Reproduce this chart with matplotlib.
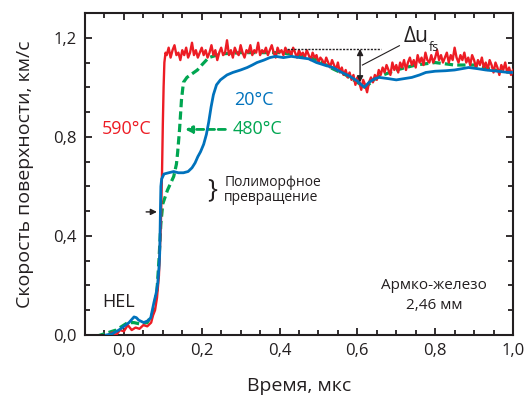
import matplotlib
matplotlib.use("Agg")
import matplotlib.pyplot as plt
import numpy as np
from matplotlib.ticker import MultipleLocator, FuncFormatter

plt.rcParams["font.family"] = ["Open Sans", "DejaVu Sans"]

RED = "#ed1c24"
BLUE = "#0072bc"
GREEN = "#00a651"

# 590 C: foot and shock front
red_front_t = [-0.05, -0.04, -0.03, -0.02, -0.01, 0.0, 0.01, 0.02, 0.03, 0.04,
               0.05, 0.06, 0.07, 0.075, 0.08, 0.085, 0.09, 0.095, 0.098, 0.10,
               0.102, 0.104, 0.107]
red_front_v = [-0.01, 0.0, 0.01, 0.0, 0.02, 0.015, 0.04, 0.02, 0.03, 0.025,
               0.04, 0.035, 0.05, 0.08, 0.10, 0.15, 0.24, 0.45, 0.66, 0.85,
               1.00, 1.10, 1.14]
# 590 C: noisy plateau, sampled every 5 ns from 0.110 us
red_step = 0.005
red_plateau_v = [
    1.13, 1.16, 1.12, 1.15, 1.17, 1.13, 1.14, 1.11, 1.15, 1.13,
    1.16, 1.12, 1.14, 1.18, 1.13, 1.15, 1.12, 1.14, 1.16, 1.13,
    1.15, 1.12, 1.14, 1.17, 1.13, 1.15, 1.11, 1.14, 1.16, 1.13,
    1.14, 1.19, 1.13, 1.15, 1.12, 1.16, 1.14, 1.13, 1.17, 1.14,
    1.12, 1.15, 1.14, 1.17, 1.13, 1.15, 1.14, 1.18, 1.13, 1.15,
    1.14, 1.16, 1.13, 1.15, 1.17, 1.14, 1.12, 1.16, 1.14, 1.15,
    1.13, 1.16, 1.14, 1.15, 1.13, 1.16, 1.14, 1.12, 1.15, 1.13,
    1.14, 1.12, 1.15, 1.13, 1.11, 1.14, 1.12, 1.13, 1.10, 1.12,
    1.11, 1.09, 1.12, 1.10, 1.08, 1.11, 1.09, 1.07, 1.10, 1.06,
    1.08, 1.05, 1.07, 1.04, 1.06, 1.03, 1.05, 1.01, 1.04, 1.02,
    0.99, 1.03, 1.01, 0.98, 1.02, 1.04, 1.02, 1.05, 1.03, 1.07,
    1.05, 1.08, 1.06, 1.09, 1.07, 1.05, 1.10, 1.07, 1.09, 1.06,
    1.10, 1.08, 1.11, 1.07, 1.10, 1.12, 1.09, 1.11, 1.08, 1.13,
    1.10, 1.12, 1.09, 1.14, 1.11, 1.10, 1.13, 1.10, 1.12, 1.15,
    1.11, 1.13, 1.10, 1.12, 1.14, 1.10, 1.13, 1.11, 1.16, 1.12,
    1.10, 1.13, 1.11, 1.14, 1.10, 1.12, 1.09, 1.13, 1.11, 1.08,
    1.11, 1.09, 1.12, 1.08, 1.10, 1.07, 1.11, 1.09, 1.06, 1.10,
    1.08, 1.05, 1.09, 1.07, 1.10, 1.06, 1.08, 1.05, 1.07,
]

# 20 C
blue_t = [-0.045, -0.03, -0.013, 0.0, 0.013, 0.026, 0.032, 0.038, 0.051, 0.062,
          0.069, 0.077, 0.083, 0.087, 0.090, 0.092, 0.093, 0.094, 0.095, 0.097,
          0.103, 0.115, 0.128, 0.140, 0.153, 0.165, 0.175, 0.183, 0.190, 0.197,
          0.205, 0.212, 0.218, 0.224, 0.230, 0.238, 0.248, 0.265, 0.280, 0.300,
          0.317, 0.330, 0.342, 0.360, 0.375, 0.390, 0.410, 0.430, 0.452, 0.475,
          0.495, 0.515, 0.537, 0.560, 0.580, 0.600, 0.618, 0.630, 0.645, 0.656,
          0.680, 0.700, 0.720, 0.740, 0.760, 0.776, 0.800, 0.827, 0.850, 0.886,
          0.910, 0.930, 0.960, 0.988, 1.000]
blue_v = [0.0, 0.005, 0.02, 0.035, 0.05, 0.073, 0.07, 0.06, 0.05, 0.058,
          0.07, 0.13, 0.17, 0.21, 0.27, 0.33, 0.42, 0.52, 0.60, 0.63,
          0.65, 0.655, 0.66, 0.655, 0.655, 0.66, 0.675, 0.695, 0.72, 0.74,
          0.77, 0.81, 0.86, 0.92, 0.97, 1.01, 1.03, 1.05, 1.06, 1.07,
          1.08, 1.09, 1.10, 1.11, 1.12, 1.125, 1.12, 1.125, 1.12, 1.115,
          1.10, 1.09, 1.08, 1.06, 1.045, 1.025, 1.00, 1.02, 1.035, 1.04,
          1.035, 1.03, 1.035, 1.04, 1.05, 1.06, 1.065, 1.067, 1.07, 1.08,
          1.075, 1.07, 1.065, 1.06, 1.06]

# 480 C
green_t = [-0.07, -0.06, -0.04, -0.02, 0.0, 0.01, 0.026, 0.04, 0.06, 0.075,
           0.085, 0.09, 0.095, 0.10, 0.112, 0.128, 0.135, 0.138, 0.143, 0.148,
           0.153, 0.162, 0.171, 0.189, 0.20, 0.218, 0.25, 0.30, 0.35, 0.40,
           0.45, 0.50, 0.53, 0.57, 0.60, 0.62, 0.65, 0.70, 0.75, 0.80,
           0.85, 0.90, 0.95, 1.00]
green_v = [-0.005, 0.0, 0.01, 0.02, 0.04, 0.05, 0.05, 0.045, 0.05, 0.09,
           0.18, 0.30, 0.45, 0.53, 0.585, 0.64, 0.69, 0.735, 0.83, 0.95,
           1.02, 1.04, 1.05, 1.07, 1.09, 1.12, 1.135, 1.14, 1.14, 1.14,
           1.13, 1.11, 1.08, 1.05, 1.02, 1.00, 1.04, 1.07, 1.09, 1.10,
           1.09, 1.09, 1.07, 1.06]

red_t = red_front_t + list(0.110 + red_step * np.arange(len(red_plateau_v)))
red_v = red_front_v + red_plateau_v

fig = plt.figure(figsize=(5.27, 3.98), dpi=100)
ax = fig.add_axes([0.1613, 0.1583, 0.8121, 0.809])

ax.plot(green_t, green_v, color=GREEN, lw=2.3, ls=(0, (2.6, 1.3)), zorder=2)
ax.plot(red_t, red_v, color=RED, lw=1.7, zorder=3)
ax.plot(blue_t, blue_v, color=BLUE, lw=2.0, zorder=4)

ax.set_xlim(-0.1, 1.0)
ax.set_ylim(0, 1.3)
ax.xaxis.set_major_locator(MultipleLocator(0.2))
ax.xaxis.set_minor_locator(MultipleLocator(0.05))
ax.yaxis.set_major_locator(MultipleLocator(0.4))
ax.yaxis.set_minor_locator(MultipleLocator(0.1))
comma = FuncFormatter(lambda v, p: f"{v:.1f}".replace(".", ","))
ax.xaxis.set_major_formatter(comma)
ax.yaxis.set_major_formatter(comma)
ax.tick_params(which="both", direction="in", top=True, right=True,
               width=1.3, labelsize=12, color="#231f20", labelcolor="#231f20")
ax.tick_params(which="major", length=5, pad=6)
ax.tick_params(which="minor", length=3.5)
for s in ax.spines.values():
    s.set_linewidth(1.5)
    s.set_color("#231f20")

ax.set_xlabel("Время, мкс", fontsize=14, color="#231f20", labelpad=13)
ax.set_ylabel("Скорость поверхности, км/с", fontsize=14, color="#231f20", labelpad=14)

# curve labels
ax.text(0.008, 0.83, "590°C", color=RED, fontsize=13, ha="center", va="center")
ax.text(0.335, 0.95, "20°C", color=BLUE, fontsize=13, ha="center", va="center")
ax.text(0.28, 0.83, "480°C", color=GREEN, fontsize=13, ha="left", va="center")
ax.annotate("", xy=(0.15, 0.83), xytext=(0.268, 0.83),
            arrowprops=dict(arrowstyle="-|>", color=GREEN, lw=2.0,
                            ls=(0, (2.6, 1.3)), mutation_scale=10))

ax.text(-0.015, 0.135, "HEL", fontsize=13, ha="center", va="center", color="#231f20")

# phase transition marker
ax.annotate("", xy=(0.092, 0.497), xytext=(0.05, 0.497),
            arrowprops=dict(arrowstyle="-|>", color="#231f20", lw=1.0,
                            mutation_scale=9))
ax.text(0.226, 0.585, "}", fontsize=19, ha="center", va="center", color="#231f20")
ax.text(0.258, 0.585, "Полиморфное\nпревращение", fontsize=10,
        ha="left", va="center", linespacing=0.95, color="#231f20")

ax.text(0.797, 0.20, "Армко-железо", fontsize=11, ha="center", va="center",
        color="#231f20")
ax.text(0.797, 0.12, "2,46 мм", fontsize=11, ha="center", va="center",
        color="#231f20")

# spall pullback velocity
ax.plot([0.42, 0.66], [1.155, 1.155], color="#231f20", lw=1.0, ls=(0, (1.5, 1)),
        zorder=5)
ax.annotate("", xy=(0.607, 1.02), xytext=(0.607, 1.155),
            arrowprops=dict(arrowstyle="<|-|>", color="#231f20", lw=1.0,
                            mutation_scale=9, shrinkA=0, shrinkB=0), zorder=6)
ax.plot([0.613, 0.708], [1.09, 1.168], color="#231f20", lw=0.8, zorder=6)
ax.text(0.718, 1.205, "Δu", fontsize=15, ha="left", va="center", color="#231f20",
        zorder=7)
ax.text(0.784, 1.16, "fs", fontsize=9, ha="left", va="center", color="#231f20",
        zorder=7)

fig.savefig("out.png", dpi=100)
